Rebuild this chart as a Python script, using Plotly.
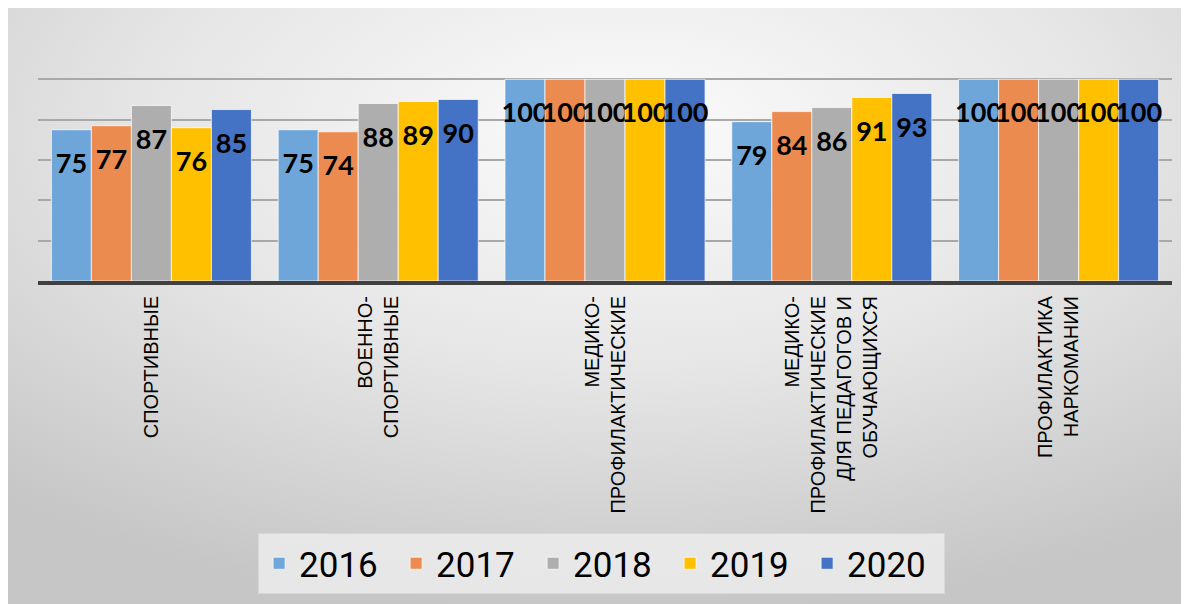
import base64
import plotly.graph_objects as go

categories = [
    "СПОРТИВНЫЕ",
    "ВОЕННО-<br>СПОРТИВНЫЕ",
    "МЕДИКО-<br>ПРОФИЛАКТИЧЕСКИЕ",
    "МЕДИКО-<br>ПРОФИЛАКТИЧЕСКИЕ<br>ДЛЯ ПЕДАГОГОВ И<br>ОБУЧАЮЩИХСЯ",
    "ПРОФИЛАКТИКА<br>НАРКОМАНИИ",
]
years = ["2016", "2017", "2018", "2019", "2020"]
v2016 = [75, 75, 100, 79, 100]
v2017 = [77, 74, 100, 84, 100]
v2018 = [87, 88, 100, 86, 100]
v2019 = [76, 89, 100, 91, 100]
v2020 = [85, 90, 100, 93, 100]
series = [v2016, v2017, v2018, v2019, v2020]
colors = ["#6FA6D9", "#EC8B4F", "#AEAEAE", "#FFC000", "#4472C4"]

W, H = 1189, 604
ML, MR, MT, MB = 30, 25, 31, 331
PW, PH = W - ML - MR, H - MT - MB

fig = go.Figure()
for name, vals, col in zip(years, series, colors):
    fig.add_trace(go.Bar(
        x=categories, y=vals, name=name,
        marker=dict(color=col, line=dict(color="rgba(255,255,255,0.7)", width=1)),
        text=["<span style='font-size:5px'>&nbsp;</span><br>%d" % v for v in vals],
        textposition="inside", insidetextanchor="end", textangle=0,
        constraintext="none",
        textfont=dict(family="Lato, Open Sans, sans-serif", size=27, color="black", weight="bold"),
        hoverinfo="skip",
    ))

svg = (
    "<svg xmlns='http://www.w3.org/2000/svg' width='1000' height='600' preserveAspectRatio='none' viewBox='0 0 1000 600'>"
    "<defs><radialGradient id='g' cx='0.52' cy='0.2' r='0.8' gradientUnits='objectBoundingBox'>"
    "<stop offset='0' stop-color='#fbfbfb'/><stop offset='0.5' stop-color='#e6e6e6'/>"
    "<stop offset='1' stop-color='#c6c6c6'/></radialGradient></defs>"
    "<rect x='0' y='0' width='1000' height='600' fill='url(#g)'/></svg>"
)
src = "data:image/svg+xml;base64," + base64.b64encode(svg.encode()).decode()

fig.add_layout_image(dict(
    source=src, xref="paper", yref="paper",
    x=-ML / PW, y=(MT + PH) / PH,
    sizex=W / PW, sizey=H / PH,
    xanchor="left", yanchor="top", sizing="stretch", layer="below",
))

fig.update_layout(
    width=W, height=H,
    margin=dict(l=ML, r=MR, t=MT, b=MB, autoexpand=False),
    paper_bgcolor="#dcdcdc", plot_bgcolor="rgba(0,0,0,0)",
    barmode="group", bargap=0.118, bargroupgap=0,
    showlegend=True,
    legend=dict(
        orientation="h", x=0.497, xanchor="center",
        y=(MT + PH - 525) / PH, yanchor="top",
        font=dict(family="Liberation Sans Narrow, Roboto, Lato, sans-serif", size=35, color="black"),
        bgcolor="rgba(236,236,236,0.85)", bordercolor="#d8d8d8", borderwidth=1,
        entrywidth=92, entrywidthmode="pixels",
    ),
    xaxis=dict(
        tickangle=-90, showline=True, linewidth=4, linecolor="#404040",
        ticks="", ticklabelstandoff=3,
        tickfont=dict(family="Liberation Sans, Arial, sans-serif", size=20, color="black"),
        showgrid=False,
    ),
    yaxis=dict(
        range=[0, 120], dtick=20, showticklabels=False,
        showgrid=True, gridcolor="#a8a8a8", gridwidth=1.5,
        zeroline=False, showline=False,
    ),
)

fig.write_html("out.html")
